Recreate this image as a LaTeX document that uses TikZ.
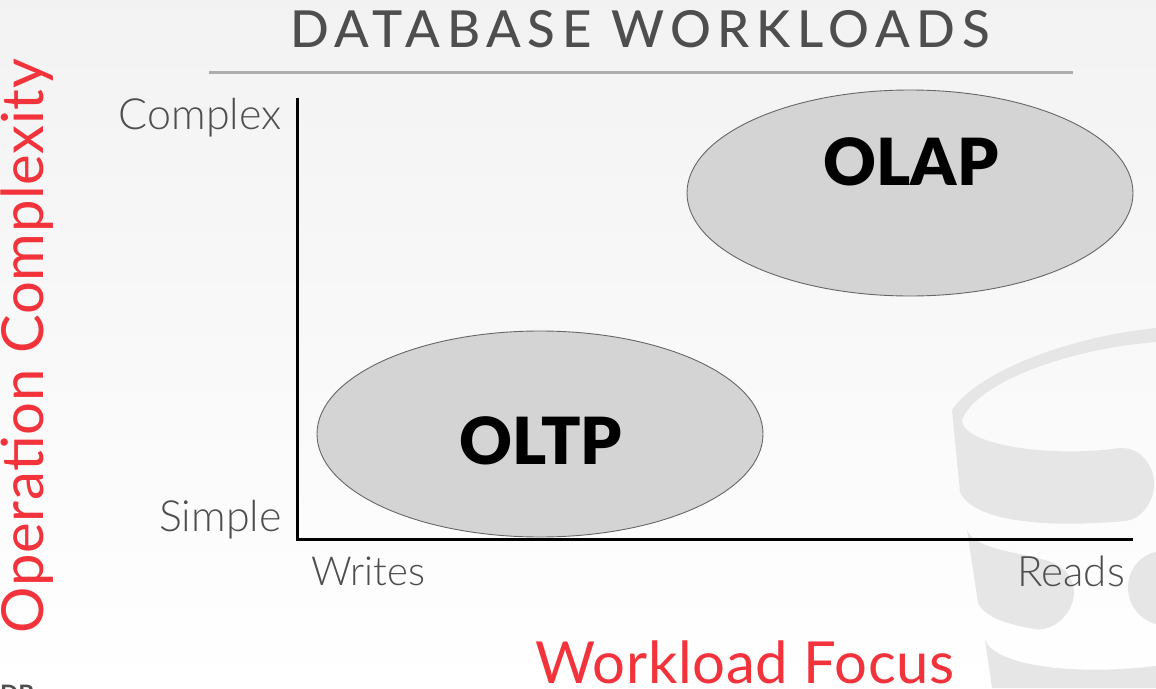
\documentclass[tikz,border=0pt]{standalone}
\usepackage{fontspec}
\setmainfont{Lato}
\newfontfamily\lightf{Lato Light}
\newfontfamily\heavyf{Lato Black}
\newfontfamily\medf{Lato Medium}
\usetikzlibrary{shapes.geometric}
\definecolor{redtxt}{HTML}{F2333B}
\definecolor{greytxt}{HTML}{4E4E4E}
\definecolor{bucket}{HTML}{E6E6E6}
\tikzset{
  x=1pt,y=-1pt,
  axislabel/.style={font=\lightf\fontsize{43}{43}\selectfont,text=greytxt,inner sep=0},
  redlabel/.style={font=\fontsize{58}{58}\selectfont\addfontfeatures{LetterSpace=1.2},text=redtxt,inner sep=0},
  blob/.style={ellipse,draw=black!60,line width=0.9pt,fill=black!17,minimum width=446pt,minimum height=206pt,inner sep=0},
  bloblabel/.style={font=\heavyf\fontsize{65}{65}\selectfont,text=black,inner sep=0},
  axisline/.style={line width=3pt,draw=black,line cap=butt},
  bucketshape/.style={fill=bucket,draw=none}
}
\begin{document}
\begin{tikzpicture}
\useasboundingbox (0,0) rectangle (1156,688);
\shade[top color=black!5,bottom color=white] (0,0) rectangle (1156,688);
% bucket watermark
\fill[bucketshape] (952,410) .. controls (975,375) and (1060,338) .. (1156,328) -- (1156,342)
  .. controls (1060,350) and (975,385) .. (962,420)
  .. controls (962,445) and (1050,458) .. (1120,448)
  .. controls (1140,447) and (1154,465) .. (1154,484)
  .. controls (1154,503) and (1140,520) .. (1125,521)
  .. controls (1060,527) and (975,525) .. (960,492) -- cycle;
\fill[bucketshape] (967,530) .. controls (975,550) and (1020,552) .. (1045,560)
  .. controls (1063,565) and (1074,577) .. (1074,592)
  .. controls (1074,612) and (1055,632) .. (1035,629)
  .. controls (1010,625) and (985,618) .. (978,603) -- cycle;
\fill[bucketshape] (1156,552) .. controls (1140,555) and (1128,570) .. (1128,588)
  .. controls (1128,605) and (1140,620) .. (1156,624) -- cycle;
\fill[bucketshape] (985,640) .. controls (995,665) and (1070,676) .. (1156,666) -- (1156,688) -- (992,688) -- cycle;
% title
\node[font=\medf\fontsize{51}{51}\selectfont\addfontfeatures{LetterSpace=13},text=greytxt,inner sep=0] (title) at (640,29) {DATABASE WORKLOADS};
\coordinate (ruleL) at (209,72.5);
\coordinate (ruleR) at (1073,72.5);
\draw[line width=2.2pt,draw=black!32] (ruleL) -- (ruleR);
% axes
\coordinate (origin) at (297,539);
\coordinate (ytop) at (297,98);
\coordinate (xend) at (1133,539);
\draw[axisline] (ytop) -- (origin) -- (xend);
% blobs
\node[blob] (oltp) at (540,434) {};
\node[blob] (olap) at (910,193) {};
\node[bloblabel] (oltplabel) at (541,441) {OLTP};
\node[bloblabel] (olaplabel) at (911,162) {OLAP};
% axis labels
\node[axislabel,anchor=east] (complex) at (282,118) {Complex};
\node[axislabel,anchor=east] (simple) at (282,520) {Simple};
\node[axislabel,anchor=west,font=\lightf\fontsize{40}{40}\selectfont] (writes) at (311,571) {Writes};
\node[axislabel,anchor=east,font=\lightf\fontsize{42}{42}\selectfont] (reads) at (1125,571) {Reads};
\node[redlabel,rotate=90,anchor=base] (opc) at (43,346) {Operation Complexity};
\node[redlabel,anchor=base] (wf) at (745,683) {Workload Focus};
\node[font=\fontsize{24}{24}\selectfont\bfseries,text=greytxt,inner sep=0,anchor=base west] (db) at (0,702) {DB};
\end{tikzpicture}
\end{document}
